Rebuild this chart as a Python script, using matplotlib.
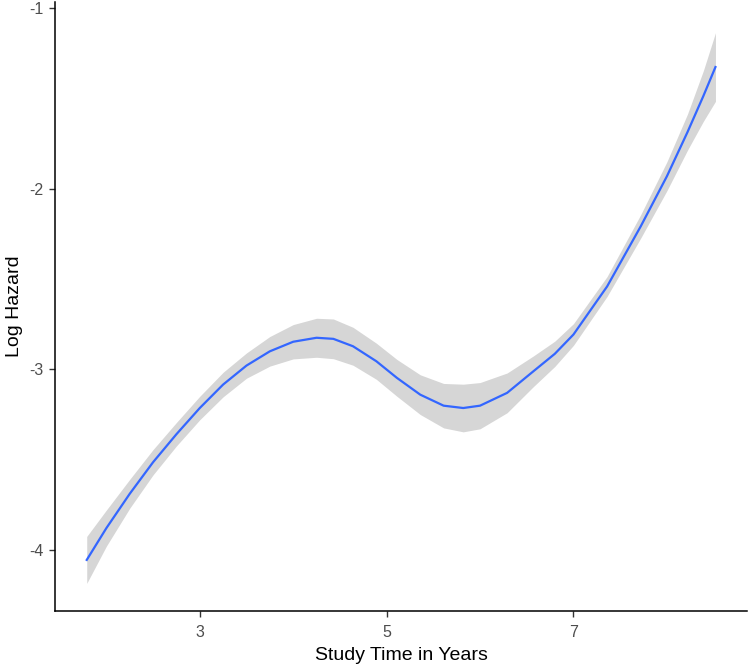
import matplotlib
matplotlib.use("Agg")
import matplotlib.pyplot as plt

# smoothed log hazard
years = [1.79, 2.0, 2.25, 2.5, 2.75, 3.0, 3.25, 3.5, 3.75, 4.0, 4.25, 4.43, 4.64,
         4.89, 5.11, 5.36, 5.61, 5.82, 6.0, 6.29, 6.57, 6.8, 7.0, 7.36, 7.72,
         8.0, 8.22, 8.39, 8.52]
log_hazard = [-4.056, -3.88, -3.69, -3.515, -3.36, -3.215, -3.085, -2.980, -2.901,
              -2.848, -2.826, -2.832, -2.873, -2.956, -3.048, -3.141, -3.202,
              -3.215, -3.202, -3.131, -3.012, -2.915, -2.808, -2.542, -2.209,
              -1.932, -1.688, -1.488, -1.327]
ci_lower = [-4.186, -3.98, -3.77, -3.585, -3.425, -3.280, -3.153, -3.050, -2.983,
            -2.943, -2.934, -2.942, -2.978, -3.056, -3.150, -3.251, -3.325,
            -3.347, -3.330, -3.241, -3.097, -2.985, -2.868, -2.597, -2.274,
            -2.012, -1.788, -1.628, -1.517]
ci_upper = [-3.926, -3.78, -3.61, -3.445, -3.295, -3.150, -3.017, -2.910, -2.819,
            -2.753, -2.718, -2.722, -2.768, -2.856, -2.946, -3.031, -3.079,
            -3.083, -3.074, -3.021, -2.927, -2.845, -2.748, -2.487, -2.144,
            -1.852, -1.588, -1.348, -1.137]

plt.rcParams['font.family'] = ['Liberation Sans', 'DejaVu Sans']

fig = plt.figure(figsize=(7.5, 6.72), dpi=100)
ax = fig.add_axes([0.0733, 0.091, 0.923, 0.906])

ax.fill_between(years, ci_lower, ci_upper, color='#999999', alpha=0.4, linewidth=0)
ax.plot(years, log_hazard, color='#3366FF', linewidth=1.6)

ax.set_xlim(1.45, 8.86)
ax.set_ylim(-4.338, -0.967)
ax.set_xticks([3, 5, 7])
ax.set_yticks([-4, -3, -2, -1])
ax.set_yticklabels(['-4', '-3', '-2', '-1'])

for side in ['top', 'right']:
    ax.spines[side].set_visible(False)
for side in ['left', 'bottom']:
    ax.spines[side].set_linewidth(1.1)
    ax.spines[side].set_color('black')

ax.tick_params(axis='both', length=4, width=1.0, color='#333333',
               labelsize=11.5, labelcolor='#4D4D4D')
ax.tick_params(axis='x', pad=6)
ax.tick_params(axis='y', pad=4)

ax.set_xlabel('Study Time in Years', fontsize=14, color='black', labelpad=5)
ax.set_ylabel('Log Hazard', fontsize=14, color='black', labelpad=5)

plt.savefig('out.png', dpi=100)
